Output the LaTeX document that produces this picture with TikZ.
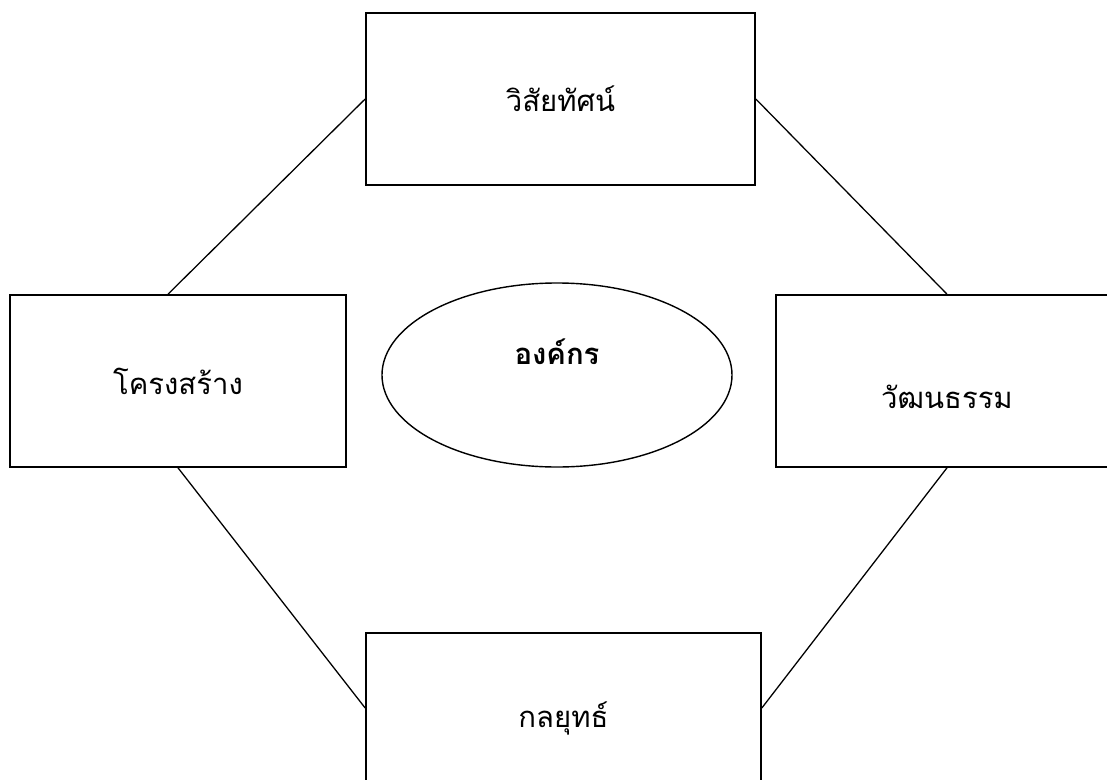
\documentclass[tikz,border=0pt]{standalone}
\usepackage{fontspec}
\newfontfamily\thaifont[Script=Thai]{Loma}
\usetikzlibrary{shapes.geometric, positioning, calc}

\begin{document}
\begin{tikzpicture}[
    x=0.03cm, y=-0.03cm,
    every node/.style={font=\thaifont\fontsize{25}{30}\selectfont},
    topic/.style={rectangle, draw=black, line width=1.4pt, inner sep=0pt, align=center},
    core/.style={ellipse, draw=black, line width=1.2pt, minimum width=10.5cm, minimum height=5.52cm, inner sep=0pt},
    link/.style={draw=black, line width=1.1pt}
]
\useasboundingbox (0,0) rectangle (1107,780);
\clip (0,0) rectangle (1107,780);

% ============== Organisation (centre) ==============
\node[core, label={[name=orgtxt, font=\thaifont\bfseries\fontsize{25}{30}\selectfont, yshift=0.69cm]center:องค์กร}] (org) at (557,375) {};

% ============== Four boxes ==============
\node[topic, minimum width=11.67cm, minimum height=5.16cm] (vision) at (560.5,99) {วิสัยทัศน์};
\node[topic, minimum width=10.08cm, minimum height=5.16cm] (structure) at (178,381) {โครงสร้าง};
\node[topic, minimum width=10.26cm, minimum height=5.16cm, label={[name=culturetxt, yshift=-0.48cm]center:วัฒนธรรม}] (culture) at (947,381) {};
\node[topic, minimum width=11.85cm, minimum height=5.1cm] (strategy) at (563.5,718) {กลยุทธ์};

% ============== Connectors ==============
\draw[link] (vision.west) -- ($(structure.north)+(-10,0)$);
\draw[link] (vision.east) -- (culture.north);
\draw[link] (structure.south) -- ($(strategy.west)+(0,-10)$);
\draw[link] (culture.south) -- ($(strategy.east)+(0,-10)$);
\end{tikzpicture}
\end{document}
